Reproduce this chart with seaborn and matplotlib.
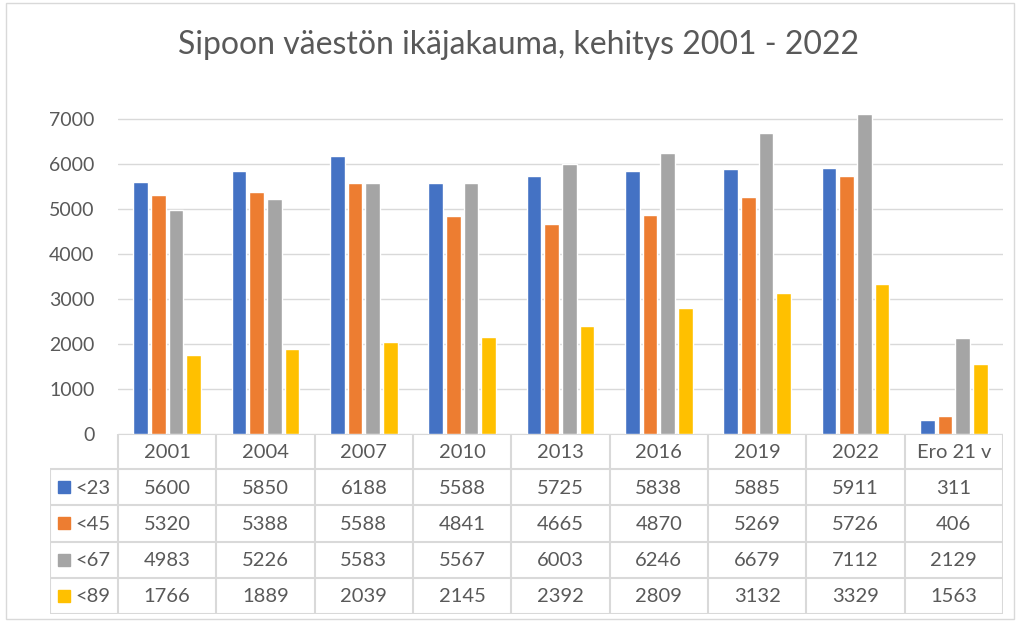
import numpy as np
import pandas as pd
import matplotlib
matplotlib.use("Agg")
import matplotlib.pyplot as plt
import seaborn as sns
from matplotlib.patches import Rectangle

# Chart data
categories = ["2001", "2004", "2007", "2010", "2013", "2016", "2019", "2022", "Ero 21 v"]
series = ["<23", "<45", "<67", "<89"]
under_23 = [5600, 5850, 6188, 5588, 5725, 5838, 5885, 5911, 311]
under_45 = [5320, 5388, 5588, 4841, 4665, 4870, 5269, 5726, 406]
under_67 = [4983, 5226, 5583, 5567, 6003, 6246, 6679, 7112, 2129]
under_89 = [1766, 1889, 2039, 2145, 2392, 2809, 3132, 3329, 1563]
y_ticks = [0, 1000, 2000, 3000, 4000, 5000, 6000, 7000]
title = "Sipoon väestön ikäjakauma, kehitys 2001 - 2022"

colors = ["#4472C4", "#ED7D31", "#A5A5A5", "#FFC000"]
TEXT = "#595959"
GRID = "#D9D9D9"

values = [under_23, under_45, under_67, under_89]
df = pd.DataFrame({
    "vuosi": categories * len(series),
    "ryhma": np.repeat(series, len(categories)),
    "vaesto": np.concatenate(values),
})

sns.set_theme(style="white")
plt.rcParams["font.family"] = ["Lato", "DejaVu Sans"]

W, H = 1021, 622
fig = plt.figure(figsize=(W / 100, H / 100), dpi=100)

# pixel layout of the plot area
x0, x1 = 118, 1003
y_zero = 434
px_per_unit = 0.045
y_top = 7300

ax = fig.add_axes([x0 / W, (H - y_zero) / H, (x1 - x0) / W, y_top * px_per_unit / H])
sns.barplot(data=df, x="vuosi", y="vaesto", hue="ryhma", order=categories,
            hue_order=series, palette=colors, saturation=1, width=0.72, gap=0.18,
            legend=False, ax=ax)
ax.set_xlim(-0.5, len(categories) - 0.5)
ax.set_ylim(0, y_top)
ax.set_yticks(y_ticks)
ax.set_yticklabels([str(t) for t in y_ticks], fontsize=14, color=TEXT)
ax.tick_params(axis="y", length=0, pad=17)
ax.tick_params(axis="x", bottom=False, labelbottom=False)
ax.set_xlabel("")
ax.set_ylabel("")
ax.grid(axis="y", color=GRID, lw=1)
ax.set_axisbelow(True)
for s in ax.spines.values():
    s.set_visible(False)

# data table under the bars
t_left, t_bottom = 50, 614
cell_w = (x1 - x0) / len(categories)
head_h = 35
row_h = (t_bottom - y_zero - head_h) / len(series)
axt = fig.add_axes([t_left / W, (H - t_bottom) / H, (x1 - t_left) / W, (t_bottom - y_zero) / H])
left_u = -0.5 - (x0 - t_left) / cell_w
axt.set_xlim(left_u, len(categories) - 0.5)
axt.set_ylim(t_bottom - y_zero, 0)
axt.axis("off")

n = len(categories)
lw = 1.5
axt.hlines(0, -0.5, n - 0.5, color=GRID, lw=lw)
for k in range(len(series) + 1):
    axt.hlines(head_h + k * row_h, left_u, n - 0.5, color=GRID, lw=lw)
for k in range(n + 1):
    axt.vlines(k - 0.5, 0, t_bottom - y_zero, color=GRID, lw=lw)
axt.vlines(left_u, head_h, t_bottom - y_zero, color=GRID, lw=lw)

fs = 14.5
for j, cat in enumerate(categories):
    axt.text(j, head_h / 2 + 1, cat, ha="center", va="center", fontsize=fs, color=TEXT)
for i, (name, vals, col) in enumerate(zip(series, values, colors)):
    yc = head_h + (i + 0.5) * row_h
    axt.plot(left_u + (64 - t_left) / cell_w, yc, marker="s", ms=8.5, color=col, ls="none")
    axt.text(left_u + (75 - t_left) / cell_w, yc + 1, name, ha="left", va="center",
             fontsize=fs, color=TEXT)
    for j, v in enumerate(vals):
        axt.text(j, yc + 1, str(v), ha="center", va="center", fontsize=fs, color=TEXT)

fig.text(518 / W, 1 - 45 / H, title, ha="center", va="center", fontsize=23, color=TEXT)

fig.add_artist(Rectangle((6 / W, 3 / H), (1014 - 6) / W, (619 - 3) / H,
                         transform=fig.transFigure, fill=False, ec=GRID, lw=1))

fig.savefig("out.png", dpi=100, facecolor="white")
